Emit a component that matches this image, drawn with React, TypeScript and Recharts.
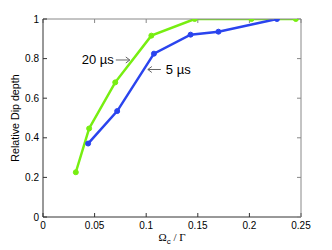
import React from "react";
import { LineChart, Line, XAxis, YAxis, ReferenceDot, Label } from "recharts";

const x20 = [0.0318, 0.0447, 0.070, 0.105, 0.147, 0.202, 0.245];
const y20 = [0.226, 0.447, 0.680, 0.916, 1.0, 1.0, 1.0];
const x5 = [0.0437, 0.0719, 0.1075, 0.143, 0.170, 0.2267];
const y5 = [0.371, 0.535, 0.825, 0.921, 0.936, 1.0];
const xTicks = [0, 0.05, 0.1, 0.15, 0.2, 0.25];
const yTicks = [0, 0.2, 0.4, 0.6, 0.8, 1];
const xTickLabels = ["0", "0.05", "0.1", "0.15", "0.2", "0.25"];
const yTickLabels = ["0", "0.2", "0.4", "0.6", "0.8", "1"];

const data20 = x20.map((x, i) => ({ x, y: y20[i] }));
const data5 = x5.map((x, i) => ({ x, y: y5[i] }));

const FONT = "'Liberation Sans', Arial, sans-serif";
const GREEN = "#77ee11";
const BLUE = "#2a44ee";
const ARROW = "#666";

const noTick = () => <g />;

export default function App() {
  return (
    <div style={{ position: "absolute", left: 0, top: 0, width: 332, height: 250, background: "#fff" }}>
      <LineChart
        width={332}
        height={250}
        margin={{ top: 0, right: 0, bottom: 0, left: 0 }}
        style={{ fontFamily: FONT }}
      >
        <XAxis
          xAxisId="b"
          type="number"
          dataKey="x"
          domain={[0, 0.25]}
          ticks={xTicks}
          tickFormatter={(v: number) => xTickLabels[xTicks.indexOf(v)] ?? String(v)}
          height={33}
          tickSize={-4}
          tickMargin={9}
          stroke="#333"
          tick={{ fill: "#000", fontSize: 10, fontFamily: FONT }}
          allowDataOverflow
        >
          <Label
            content={({ viewBox }: any) => (
              <text
                x={viewBox.x + viewBox.width / 2}
                y={viewBox.y + 24}
                textAnchor="middle"
                fontFamily="'Liberation Serif', 'DejaVu Serif', serif"
                fontSize={11}
                fill="#000"
              >
                Ω<tspan fontSize={8} dy={3} fontFamily={FONT}>c</tspan>
                <tspan dy={-3}> / Γ</tspan>
              </text>
            )}
          />
        </XAxis>
        <XAxis
          xAxisId="t"
          orientation="top"
          type="number"
          dataKey="x"
          domain={[0, 0.25]}
          ticks={xTicks}
          height={19}
          tickSize={-4}
          stroke="#888"
          tick={noTick}
          allowDataOverflow
        />
        <YAxis
          yAxisId="l"
          type="number"
          domain={[0, 1]}
          ticks={yTicks}
          tickFormatter={(v: number) => yTickLabels[yTicks.indexOf(v)] ?? String(v)}
          width={43}
          tickSize={-4}
          tickMargin={8}
          stroke="#333"
          tick={{ fill: "#000", fontSize: 10, fontFamily: FONT }}
          allowDataOverflow
        >
          <Label
            content={({ viewBox }: any) => (
              <text
                x={19}
                y={viewBox.y + viewBox.height / 2}
                textAnchor="middle"
                fontFamily={FONT}
                fontSize={10.7}
                fill="#000"
                transform={`rotate(-90, 19, ${viewBox.y + viewBox.height / 2})`}
              >
                Relative Dip depth
              </text>
            )}
          />
        </YAxis>
        <YAxis
          yAxisId="r"
          orientation="right"
          type="number"
          domain={[0, 1]}
          ticks={yTicks}
          width={31}
          tickSize={-4}
          stroke="#888"
          tick={noTick}
          allowDataOverflow
        />
        <Line
          xAxisId="b"
          yAxisId="l"
          data={data20}
          dataKey="y"
          stroke={GREEN}
          strokeWidth={2.5}
          dot={{ r: 2.5, fill: GREEN, stroke: GREEN, strokeWidth: 1 }}
          isAnimationActive={false}
        />
        <Line
          xAxisId="b"
          yAxisId="l"
          data={data5}
          dataKey="y"
          stroke={BLUE}
          strokeWidth={2.5}
          dot={{ r: 2.5, fill: BLUE, stroke: BLUE, strokeWidth: 1 }}
          isAnimationActive={false}
        />
        <ReferenceDot
          xAxisId="b"
          yAxisId="l"
          x={0.0376}
          y={0.793}
          r={0}
          shape={(p: any) => (
            <g>
              <text x={p.cx} y={p.cy + 4.5} fontFamily={FONT} fontSize={13} fill="#000">
                20 µs
              </text>
              <line x1={p.cx + 34} y1={p.cy} x2={p.cx + 48} y2={p.cy} stroke={ARROW} strokeWidth={1} />
              <path d={`M${p.cx + 44},${p.cy - 3} L${p.cx + 48},${p.cy} L${p.cx + 44},${p.cy + 3}`} stroke={ARROW} fill="none" strokeWidth={1} />
            </g>
          )}
        />
        <ReferenceDot
          xAxisId="b"
          yAxisId="l"
          x={0.1016}
          y={0.745}
          r={0}
          shape={(p: any) => (
            <g>
              <line x1={p.cx} y1={p.cy} x2={p.cx + 13} y2={p.cy} stroke={ARROW} strokeWidth={1} />
              <path d={`M${p.cx + 4},${p.cy - 3} L${p.cx},${p.cy} L${p.cx + 4},${p.cy + 3}`} stroke={ARROW} fill="none" strokeWidth={1} />
              <text x={p.cx + 18} y={p.cy + 4.5} fontFamily={FONT} fontSize={13} fill="#000">
                5 µs
              </text>
            </g>
          )}
        />
      </LineChart>
    </div>
  );
}
